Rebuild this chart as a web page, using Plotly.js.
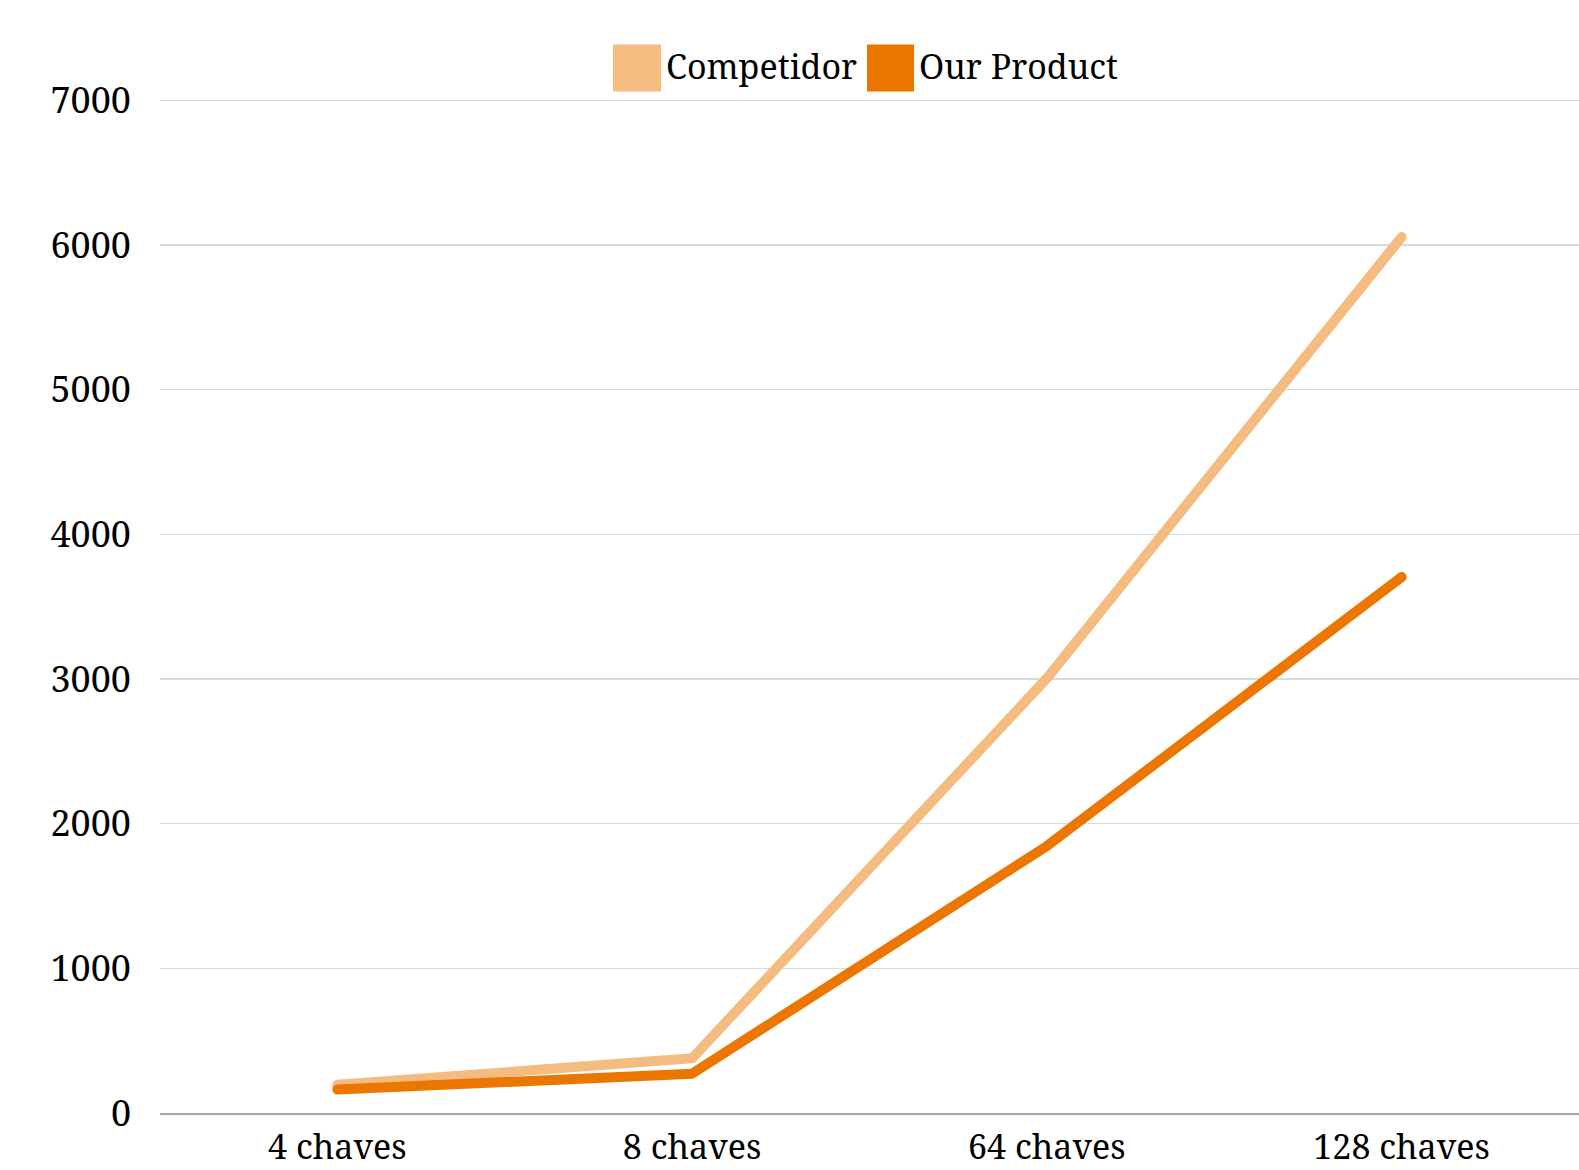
<!DOCTYPE html>
<html>
<head>
<meta charset="utf-8">
<script src="https://cdn.plot.ly/plotly-3.0.1.min.js"></script>
<style>html,body{margin:0;padding:0;background:#fff;}#chart{width:1579px;height:1170px;}
#chart .scatterlayer path.js-line{stroke-linecap:round;stroke-linejoin:round;}</style>
</head>
<body>
<div id="chart"></div>
<script>
const categories = ["4 chaves", "8 chaves", "64 chaves", "128 chaves"];
const seriesNames = ["Competidor", "Our Product"];
const competidor = [195, 378, 3005, 6055];
const ourProduct = [162, 272, 1845, 3705];
const yTicks = [0, 1000, 2000, 3000, 4000, 5000, 6000, 7000];
const colors = ["#F5BC82", "#EB7600"];

const FONT = "'Noto Serif', 'Liberation Serif', 'DejaVu Serif', serif";

const traces = [
  {type: "scatter", mode: "lines", name: seriesNames[0], x: categories, y: competidor,
   line: {color: colors[0], width: 10}, showlegend: false},
  {type: "scatter", mode: "lines", name: seriesNames[1], x: categories, y: ourProduct,
   line: {color: colors[1], width: 10}, showlegend: false}
];

const W = 1579, H = 1170;
const M = {l: 160, r: 0, t: 96.4, b: 57.3};
const PH = H - M.t - M.b, PW = W - M.l - M.r;
const py = (yPix) => (H - M.b - yPix) / PH;
const px = (xPix) => (xPix - M.l) / PW;

// Legend drawn as square swatches + text, as in the reference
const legendItems = [
  {x0: 613, x1: 661, tx: 664},
  {x0: 867, x1: 914, tx: 917}
];
const shapes = legendItems.map((it, i) => ({
  type: "rect", xref: "paper", yref: "paper",
  x0: px(it.x0), x1: px(it.x1), y0: py(92), y1: py(45),
  fillcolor: colors[i], line: {width: 0}, layer: "above"
}));
const annotations = legendItems.map((it, i) => ({
  xref: "paper", yref: "paper", xanchor: "left", yanchor: "middle",
  x: px(it.tx), y: py(66),
  text: seriesNames[i], showarrow: false,
  font: {family: FONT, size: 34, color: "#000"}
}));

const layout = {
  width: W, height: H,
  margin: M,
  paper_bgcolor: "#fff", plot_bgcolor: "#fff",
  font: {family: FONT, size: 36, color: "#000"},
  xaxis: {
    type: "category", range: [-0.5, 3.5],
    showgrid: false, zeroline: false,
    showline: true, linecolor: "#a6a6a6", linewidth: 1.5,
    ticks: "", ticklabelstandoff: 4,
    tickfont: {family: FONT, size: 34, color: "#000"}
  },
  yaxis: {
    range: [0, 7030], tickvals: yTicks, ticktext: yTicks.map(String),
    showgrid: true, gridcolor: "#d9d9d9", gridwidth: 1.3,
    zeroline: false, showline: false, ticks: "", ticklabelstandoff: 28,
    tickfont: {family: FONT, size: 36, color: "#000"}
  },
  shapes: shapes,
  annotations: annotations,
  showlegend: false
};

Plotly.newPlot("chart", traces, layout, {staticPlot: true, displayModeBar: false});
</script>
</body>
</html>
